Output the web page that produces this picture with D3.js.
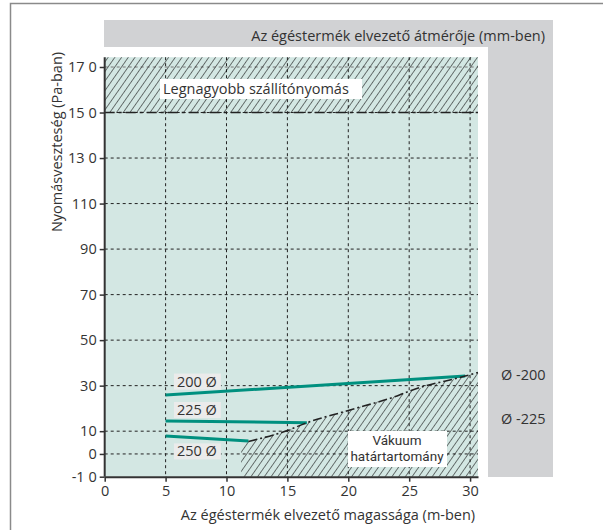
<!DOCTYPE html>
<html><head><meta charset="utf-8">
<script src="https://cdn.jsdelivr.net/npm/d3@7"></script>
<style>body{margin:0;background:#fff}svg{display:block;font-family:"Open Sans",Roboto,sans-serif}</style>
</head><body><svg id="c" width="603" height="530"></svg>
<script>
const xTicks = [0,5,10,15,20,25,30];
const xTickLabels = ["0","5","10","15","20","25","30"];
const yTicks = [-10,0,10,30,50,70,90,110,130,150,170];
const yTickLabels = ["-1 0","0","10","30","50","70","90","110","13 0","15 0","17 0"];
const seriesNames = ["200 Ø","225 Ø","250 Ø"];
const seriesX = [[5,29.6],[5,16.6],[5,11.8]];
const seriesY = [[25.9,34.2],[14.5,13.7],[7.9,5.7]];
const labelPos = [[5.85,31.8],[5.85,19.3],[5.85,1.1]];
const boundaryX = [11.8,14.9,16.6,20,24.2,25.1,29.6,30.65];
const boundaryY = [5.5,10.1,13.7,19.1,25.9,27.8,34.2,35.8];
const maxPressure = 150;
const rightLabels = ["Ø -200","Ø -225"];
const rightLabelY = [34.5,15.5];
const vacuumLines = ["Vákuum","határtartomány"];

const svg = d3.select("#c");
const x = d3.scaleLinear().domain([0,30.65]).range([104.7,478]);
const y = d3.scaleLinear().domain([-10,170]).range([476.7,67]);
const yTop = 174.3;
const txt = "#333";
const fs = 14.5;

// frame
svg.append("rect").attr("x",10.5).attr("y",3.5).attr("width",620).attr("height",560)
  .attr("fill","none").attr("stroke","#8a8a8a").attr("stroke-width",1.5);

// gray bands
svg.append("rect").attr("x",104).attr("y",20).attr("width",449).attr("height",27).attr("fill","#d1d2d4");
svg.append("rect").attr("x",488).attr("y",47).attr("width",65).attr("height",430).attr("fill","#d1d2d4");
svg.append("text").attr("x",545).attr("y",41).attr("text-anchor","end").attr("font-size",fs).attr("fill",txt)
  .text("Az égéstermék elvezető átmérője (mm-ben)");

// pattern
const defs = svg.append("defs");
const pat = defs.append("pattern").attr("id","hatch").attr("patternUnits","userSpaceOnUse")
  .attr("width",5.5).attr("height",6).attr("patternTransform","rotate(35)");
pat.append("line").attr("x1",0).attr("y1",0).attr("x2",0).attr("y2",6).attr("stroke","#111").attr("stroke-width",1.1);

// plot bg
svg.append("rect").attr("x",x(0)).attr("y",y(yTop)).attr("width",x(30.65)-x(0)).attr("height",y(-10)-y(yTop))
  .attr("fill","#d3e7e3");

// grid
const g = svg.append("g").attr("stroke","#222").attr("stroke-width",1).attr("stroke-dasharray","3,3");
xTicks.filter(d=>d>0).forEach(d=>g.append("line").attr("x1",x(d)).attr("x2",x(d)).attr("y1",y(yTop)).attr("y2",y(-10)));
yTicks.filter(d=>d>-10).forEach(d=>g.append("line").attr("x1",x(0)).attr("x2",x(30.65)).attr("y1",y(d)).attr("y2",y(d))
  .attr("stroke",d>maxPressure?"#777":"#222"));

// top hatch
svg.append("rect").attr("x",x(0)).attr("y",y(yTop)).attr("width",x(30.65)-x(0)).attr("height",y(maxPressure)-y(yTop))
  .attr("fill","url(#hatch)");
svg.append("line").attr("x1",x(0)).attr("x2",x(30.65)).attr("y1",y(maxPressure)).attr("y2",y(maxPressure))
  .attr("stroke","#222").attr("stroke-width",1.6).attr("stroke-dasharray","10,4,3,4");
svg.append("rect").attr("x",160).attr("y",79).attr("width",202).attr("height",20).attr("fill","#fff");
svg.append("text").attr("x",163).attr("y",94).attr("font-size",fs).attr("fill",txt).text("Legnagyobb szállítónyomás");

// lower hatch
const poly = [[11.2,-10],[11.2,3.5]].concat(boundaryX.map((d,i)=>[d,boundaryY[i]])).concat([[30.65,-10]]);
svg.append("path").attr("d",d3.line().x(d=>x(d[0])).y(d=>y(d[1]))(poly)+"Z").attr("fill","url(#hatch)");

// series
seriesX.forEach((xs,i)=>{
  svg.append("path").attr("d",d3.line().x(d=>x(d[0])).y(d=>y(d[1]))(xs.map((v,j)=>[v,seriesY[i][j]])))
    .attr("stroke","#00907f").attr("stroke-width",3).attr("fill","none");
});

// boundary
svg.append("path").attr("d",d3.line().curve(d3.curveMonotoneX).x((d,i)=>x(d)).y((d,i)=>y(boundaryY[i]))(boundaryX))
  .attr("fill","none").attr("stroke","#222").attr("stroke-width",1.6).attr("stroke-dasharray","9,3,2,3");

// series labels
seriesNames.forEach((n,i)=>{
  const px=x(labelPos[i][0]), py=y(labelPos[i][1]);
  svg.append("rect").attr("x",px-2).attr("y",py-8).attr("width",47).attr("height",16).attr("fill","#ebebeb");
  svg.append("text").attr("x",px+1).attr("y",py+5).attr("font-size",fs).attr("fill",txt).text(n);
});

// vacuum box
svg.append("rect").attr("x",348).attr("y",431).attr("width",99).attr("height",36).attr("fill","#fff");
vacuumLines.forEach((l,i)=>svg.append("text").attr("x",397).attr("y",445+i*16).attr("text-anchor","middle")
  .attr("font-family","Roboto,sans-serif").attr("font-size",13.5).attr("fill",txt).text(l));

// axes
const xAxis = d3.axisBottom(x).tickValues(xTicks).tickFormat((d,i)=>xTickLabels[i]).tickSize(5).tickSizeOuter(0);
const ax = svg.append("g").attr("transform",`translate(0,${y(-10)})`).call(xAxis);
ax.select(".domain").attr("stroke","#333").attr("stroke-width",2);
ax.selectAll(".tick line").attr("stroke","#333").attr("stroke-width",1.5);
ax.selectAll(".tick text").attr("font-size",fs).attr("fill",txt).attr("font-family","Open Sans,Roboto,sans-serif").attr("dy","0.8em");
const yAxis = d3.axisLeft(y).tickValues(yTicks).tickFormat((d,i)=>yTickLabels[i]).tickSize(5).tickSizeOuter(0);
const ay = svg.append("g").attr("transform",`translate(${x(0)},0)`).call(yAxis);
ay.select(".domain").attr("stroke","#333").attr("stroke-width",2).attr("d",`M0,${y(yTop)}V${y(-10)}`);
ay.selectAll(".tick line").attr("stroke","#333").attr("stroke-width",1.5);
ay.selectAll(".tick text").attr("font-size",fs).attr("fill",txt).attr("font-family","Open Sans,Roboto,sans-serif");

// right labels
rightLabels.forEach((t,i)=>svg.append("text").attr("x",501).attr("y",y(rightLabelY[i])+5).attr("font-size",fs).attr("fill",txt).text(t));

// axis titles
svg.append("text").attr("x",328).attr("y",520).attr("text-anchor","middle").attr("font-size",fs).attr("fill",txt)
  .text("Az égéstermék elvezető magassága (m-ben)");
svg.append("text").attr("transform","translate(62,142) rotate(-90)").attr("text-anchor","middle").attr("font-size",fs).attr("fill",txt)
  .text("Nyomásveszteség (Pa-ban)");
</script></body></html>
